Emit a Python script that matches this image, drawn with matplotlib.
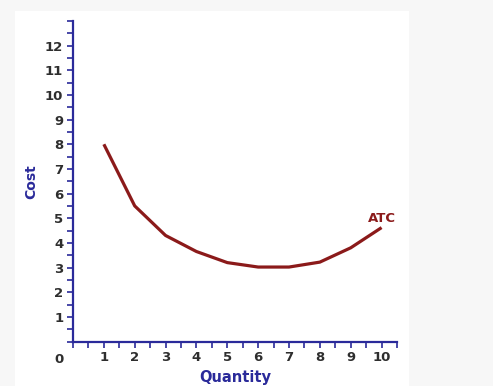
import matplotlib
matplotlib.use("Agg")
import matplotlib.pyplot as plt
from matplotlib.patches import Rectangle
from matplotlib.ticker import MultipleLocator

quantity = [1, 2, 3, 4, 5, 6, 7, 8, 9, 10]
atc = [8.0, 5.5, 4.3, 3.65, 3.2, 3.02, 3.02, 3.22, 3.8, 4.62]
x_ticks = [1, 2, 3, 4, 5, 6, 7, 8, 9, 10]
y_ticks = [1, 2, 3, 4, 5, 6, 7, 8, 9, 10, 11, 12]

axis_col = "#2a2a9a"
curve_col = "#8b1a1a"
text_col = "#2e2e2e"

plt.rcParams['font.family'] = ['DejaVu Sans']
fig = plt.figure(figsize=(4.93, 3.86), dpi=100, facecolor="#f7f7f7")
bg = fig.add_axes([0, 0, 1, 1], zorder=-10)
bg.set_axis_off()
bg.set_xlim(0, 1)
bg.set_ylim(0, 1)
bg.add_patch(Rectangle((15/493, 0), (409-15)/493, 1-11/386,
                       facecolor="white", edgecolor="none"))

ax = fig.add_axes([73/493, 1-341.5/386, (397-73)/493, (341.5-21)/386], zorder=1)
ax.set_facecolor("none")
ax.plot(quantity, atc, color=curve_col, lw=2.3, solid_capstyle="butt",
        solid_joinstyle="round")
ax.set_xlim(0, 10.5)
ax.set_ylim(0, 13)
for s in ["top", "right"]:
    ax.spines[s].set_visible(False)
for s in ["left", "bottom"]:
    ax.spines[s].set_color(axis_col)
    ax.spines[s].set_linewidth(1.6)

ax.set_xticks(x_ticks)
ax.set_yticks(y_ticks)
ax.xaxis.set_minor_locator(MultipleLocator(0.5))
ax.yaxis.set_minor_locator(MultipleLocator(0.5))
ax.tick_params(which="both", direction="out", color=axis_col, width=1.2, length=4)
ax.tick_params(axis="both", which="major", labelsize=9.5, labelcolor=text_col, pad=3)
for lab in ax.get_xticklabels() + ax.get_yticklabels():
    lab.set_fontweight("bold")

ax.text(-0.45, -0.72, "0", transform=ax.transData, ha="center", va="center",
        fontsize=9.5, fontweight="bold", color=text_col, clip_on=False)
ax.text(10.0, 5.0, "ATC", ha="center", va="center", fontsize=9.5,
        fontweight="bold", color=curve_col)

ax.set_xlabel("Quantity", fontsize=10.5, fontweight="bold", color=axis_col, labelpad=4)
ax.set_ylabel("Cost", fontsize=10, fontweight="bold", color=axis_col, labelpad=5)

fig.savefig("out.png", dpi=100, facecolor=fig.get_facecolor())
